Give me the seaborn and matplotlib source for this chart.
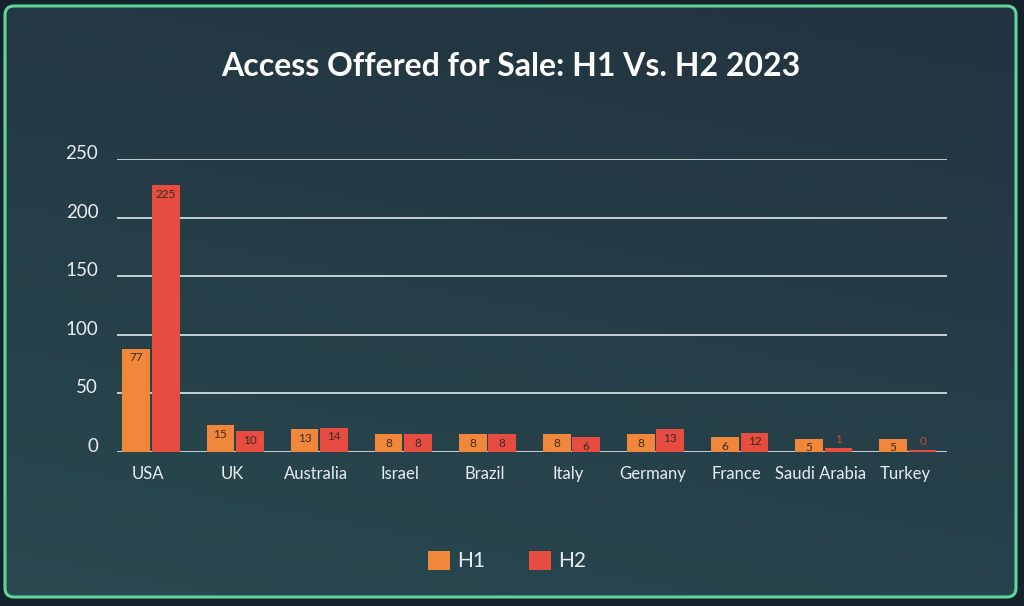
import numpy as np
import pandas as pd
import matplotlib
matplotlib.use("Agg")
import matplotlib.pyplot as plt
import seaborn as sns
from matplotlib.patches import FancyBboxPatch, Patch
from matplotlib.transforms import ScaledTranslation

# data
countries = ["USA", "UK", "Australia", "Israel", "Brazil", "Italy",
             "Germany", "France", "Saudi Arabia", "Turkey"]
halves = ["H1", "H2"]
h1_labels = [77, 15, 13, 8, 8, 8, 8, 6, 5, 5]
h2_labels = [225, 10, 14, 8, 8, 6, 13, 12, 1, 0]
# drawn bar heights (the source chart pads the small bars)
h1_heights = [88, 22.5, 19, 15, 15, 15, 15, 12.5, 11, 11]
h2_heights = [227.5, 17.5, 20.5, 15, 15, 12.5, 19, 16, 3, 1.2]
y_ticks = [0, 50, 100, 150, 200, 250]
title = "Access Offered for Sale: H1 Vs. H2 2023"

ORANGE = "#F0873A"
RED = "#E64D40"
TEXT = "#E8EEF0"
GRID = "#D3DBDF"

df = pd.DataFrame({
    "country": countries * 2,
    "half": [halves[0]] * len(countries) + [halves[1]] * len(countries),
    "height": h1_heights + h2_heights,
})

sns.set_style("dark")
plt.rcParams["font.family"] = ["Lato", "DejaVu Sans"]

W, H = 1024, 606
fig = plt.figure(figsize=(W / 100, H / 100), dpi=100)
fig.patch.set_facecolor("#13222b")

# background card with gradient and green rounded border
bg = fig.add_axes([0, 0, 1, 1])
bg.set_xlim(0, W)
bg.set_ylim(H, 0)
bg.axis("off")
frame = FancyBboxPatch((5, 6), 1011, 591, boxstyle="round,pad=0,rounding_size=9",
                       facecolor="none", edgecolor="#63D49B", linewidth=2.2, zorder=3)
bg.add_patch(frame)
yy, xx = np.mgrid[0:1:200j, 0:1:300j]
t = np.clip(0.75 * yy + 0.25 * (1 - xx), 0, 1)[..., None]
c_top = np.array(matplotlib.colors.to_rgb("#223340"))
c_bot = np.array(matplotlib.colors.to_rgb("#29494F"))
img = bg.imshow(c_top * (1 - t) + c_bot * t, extent=(0, W, H, 0), aspect="auto", zorder=1)
img.set_clip_path(frame)

# main chart
ax = fig.add_axes([117 / W, 1 - 451.7 / H, 830 / W, (451.7 - 159) / H])
ax.patch.set_alpha(0)
sns.barplot(data=df, x="country", y="height", hue="half", palette=[ORANGE, RED],
            width=0.7, gap=0.06, saturation=1, linewidth=0, legend=False, ax=ax)

ax.set_xlim(-0.404, 9.465)
ax.set_ylim(0, 250)
ax.set_yticks(y_ticks)
ax.set_yticklabels([str(v) for v in y_ticks])
ax.set_xlabel("")
ax.set_ylabel("")
ax.yaxis.grid(True, color=GRID, linewidth=1.3)
ax.xaxis.grid(False)
ax.set_axisbelow(True)
for s in ax.spines.values():
    s.set_visible(False)
ax.tick_params(axis="y", length=0, pad=13.5, labelsize=13.5, labelcolor=TEXT)
ax.tick_params(axis="x", length=0, pad=10, labelsize=12, labelcolor=TEXT)
for lbl in ax.get_yticklabels():
    lbl.set_transform(lbl.get_transform() + ScaledTranslation(0, 7 / 100, fig.dpi_scale_trans))
for lbl in ax.get_xticklabels():
    lbl.set_transform(lbl.get_transform() + ScaledTranslation(-3 / 100, 0, fig.dpi_scale_trans))

# value labels
for container, labels in zip(ax.containers, [h1_labels, h2_labels]):
    for bar, val in zip(container, labels):
        x = bar.get_x() + bar.get_width() / 2
        top = bar.get_height()
        if top > 8:
            ax.annotate(str(val), (x, top), xytext=(0, -9), textcoords="offset pixels",
                        ha="center", va="center", fontsize=8.5, color="#3B2A22")
        else:
            ax.annotate(str(val), (x, top), xytext=(0, 9), textcoords="offset pixels",
                        ha="center", va="center", fontsize=8.5, color="#C8463B")

fig.text(511 / W, 1 - 67 / H, title, ha="center", va="center",
         fontsize=23, fontweight="bold", color="white")

handles = [Patch(facecolor=ORANGE, edgecolor="none"), Patch(facecolor=RED, edgecolor="none")]
fig.legend(handles, halves, loc="center", bbox_to_anchor=(507 / W, 1 - 561 / H),
           ncol=2, frameon=False, fontsize=15, labelcolor=TEXT,
           handlelength=1.05, handleheight=1.05, handletextpad=0.35, columnspacing=2.1)

fig.savefig("out.png", dpi=100, facecolor=fig.get_facecolor())
